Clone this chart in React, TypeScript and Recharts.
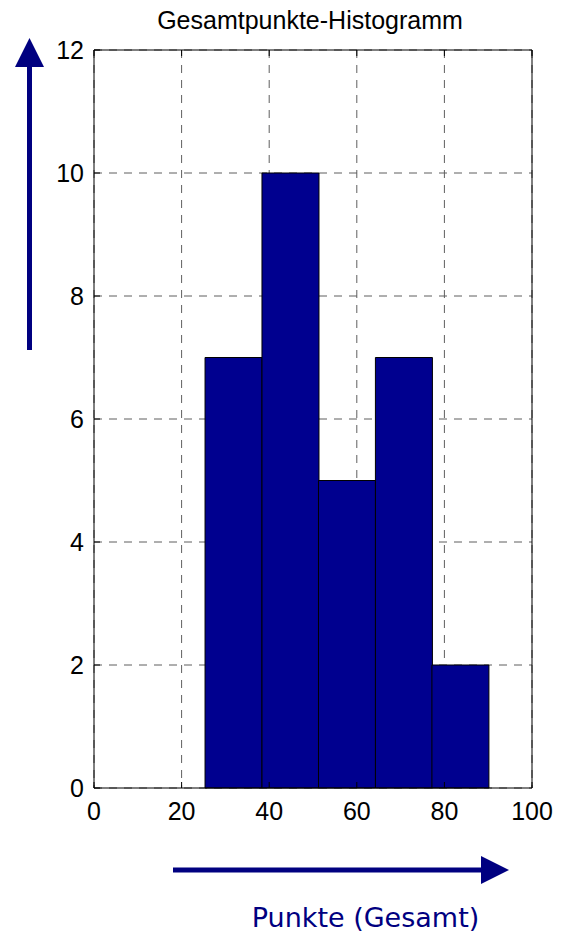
import React from 'react';
import { ComposedChart, Bar, XAxis, YAxis, CartesianGrid, Customized } from 'recharts';

const binCenters = [31.8, 44.8, 57.7, 70.7, 83.6];
const counts = [7, 10, 5, 7, 2];
const xTicks = [0, 20, 40, 60, 80, 100];
const yTicks = [0, 2, 4, 6, 8, 10, 12];
const title = 'Gesamtpunkte-Histogramm';
const xLabel = 'Punkte (Gesamt)';

const data = binCenters.map((c, i) => ({ x: c, count: counts[i] }));

const W = 561;
const H = 934;
const NAVY = '#000080';
const tickFont = { fontFamily: 'Liberation Sans, Arial, sans-serif', fontSize: 25, fill: '#000' };

const Decorations = () => (
  <g>
    <text x={310} y={29} textAnchor="middle" fontFamily="Liberation Sans, Arial, sans-serif" fontSize={25} fill="#000">
      {title}
    </text>
    {/* vertical arrow */}
    <line x1={29.5} y1={350} x2={29.5} y2={66} stroke={NAVY} strokeWidth={5} />
    <polygon points="15,67 44,67 29.5,38" fill={NAVY} />
    {/* horizontal arrow */}
    <line x1={173} y1={870} x2={482} y2={870} stroke={NAVY} strokeWidth={5} />
    <polygon points="481,856 481,884 509,870" fill={NAVY} />
    <text x={365.5} y={927} textAnchor="middle" fontFamily="DejaVu Sans, Verdana, sans-serif" fontSize={27} fill={NAVY}>
      {xLabel}
    </text>
  </g>
);

export default function App() {
  return (
    <div style={{ position: 'absolute', left: 0, top: 0, width: W, height: H, background: '#fff' }}>
      <ComposedChart
        width={W}
        height={H}
        data={data}
        margin={{ top: 0, right: 0, bottom: 0, left: 0 }}
        barCategoryGap={0}
        barGap={0}
      >
        <CartesianGrid
          xAxisId="b"
          yAxisId="l"
          stroke="#5f5f5f"
          strokeDasharray="8 7"
          strokeWidth={1}
        />
        <XAxis
          xAxisId="b"
          dataKey="x"
          type="number"
          domain={[0, 100]}
          ticks={xTicks}
          interval={0}
          orientation="bottom"
          height={146}
          tickSize={-6}
          tickMargin={20}
          axisLine={{ stroke: '#000' }}
          tickLine={{ stroke: '#000' }}
          tick={tickFont}
        />
        <XAxis
          xAxisId="t"
          dataKey="x"
          type="number"
          domain={[0, 100]}
          ticks={xTicks}
          interval={0}
          orientation="top"
          height={50}
          tickSize={-6}
          tickFormatter={() => ''}
          axisLine={{ stroke: '#000' }}
          tickLine={{ stroke: '#000' }}
        />
        <YAxis
          yAxisId="l"
          type="number"
          domain={[0, 12]}
          ticks={yTicks}
          interval={0}
          orientation="left"
          width={94}
          tickSize={-6}
          tickMargin={16}
          axisLine={{ stroke: '#000' }}
          tickLine={{ stroke: '#000' }}
          tick={tickFont}
        />
        <YAxis
          yAxisId="r"
          type="number"
          domain={[0, 12]}
          ticks={yTicks}
          interval={0}
          orientation="right"
          width={29}
          tickSize={-6}
          tickFormatter={() => ''}
          axisLine={{ stroke: '#000' }}
          tickLine={{ stroke: '#000' }}
        />
        <Bar
          xAxisId="b"
          yAxisId="l"
          dataKey="count"
          fill="#00008F"
          stroke="#000"
          strokeWidth={1}
          isAnimationActive={false}
        />
        <Customized component={Decorations} />
      </ComposedChart>
    </div>
  );
}
